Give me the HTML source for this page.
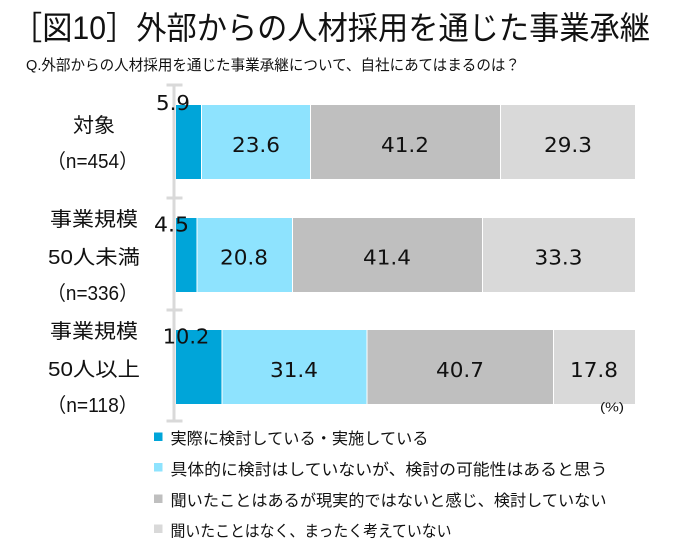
<!DOCTYPE html>
<html><head><meta charset="utf-8"><style>
html,body{margin:0;padding:0;background:#fff;}
svg{display:block;}
.j{font-family:"Liberation Sans","Noto Sans CJK JP",sans-serif;fill:#111;}
.v{font-family:"DejaVu Sans","Liberation Sans",sans-serif;font-size:20px;fill:#111;text-anchor:middle;}
.l{font-family:"Liberation Sans","Noto Sans CJK JP",sans-serif;font-size:20px;fill:#111;text-anchor:middle;}
.g{font-family:"Liberation Sans","Noto Sans CJK JP",sans-serif;font-size:16px;fill:#111;}
</style></head><body>
<svg width="675" height="553" viewBox="0 0 675 553" xmlns="http://www.w3.org/2000/svg">
<rect width="675" height="553" fill="#fff"/>
<text class="j" x="12" y="39" font-size="32" textLength="638" lengthAdjust="spacingAndGlyphs">［図10］外部からの人材採用を通じた事業承継</text>
<text class="j" x="26" y="70" font-size="15" textLength="494" lengthAdjust="spacingAndGlyphs">Q.外部からの人材採用を通じた事業承継について、自社にあてはまるのは？</text>

<!-- axis -->
<rect x="172.5" y="85" width="3" height="336" fill="#D9D9D9"/>
<rect x="166.5" y="83.5" width="16" height="3" fill="#D9D9D9"/>
<rect x="166.5" y="196.5" width="16" height="3" fill="#D9D9D9"/>
<rect x="166.5" y="308.5" width="16" height="3" fill="#D9D9D9"/>
<rect x="166.5" y="419.5" width="16" height="3" fill="#D9D9D9"/>

<!-- bar 1 -->
<rect x="176" y="105" width="25" height="74" fill="#00A5D9"/>
<rect x="202" y="105" width="108" height="74" fill="#8EE3FE"/>
<rect x="311" y="105" width="189" height="74" fill="#BFBFBF"/>
<rect x="501" y="105" width="134" height="74" fill="#D9D9D9"/>
<!-- bar 2 -->
<rect x="176" y="218" width="20.5" height="74" fill="#00A5D9"/>
<rect x="197.5" y="218" width="94.5" height="74" fill="#8EE3FE"/>
<rect x="293" y="218" width="189" height="74" fill="#BFBFBF"/>
<rect x="483" y="218" width="152" height="74" fill="#D9D9D9"/>
<!-- bar 3 -->
<rect x="176" y="330" width="45.5" height="74" fill="#00A5D9"/>
<rect x="222.5" y="330" width="144" height="74" fill="#8EE3FE"/>
<rect x="367.5" y="330" width="185.5" height="74" fill="#BFBFBF"/>
<rect x="554" y="330" width="81" height="74" fill="#D9D9D9"/>

<!-- values -->
<text class="v" x="173" y="110" textLength="34" lengthAdjust="spacingAndGlyphs">5.9</text>
<text class="v" x="256" y="152" textLength="48" lengthAdjust="spacingAndGlyphs">23.6</text>
<text class="v" x="405" y="152" textLength="48" lengthAdjust="spacingAndGlyphs">41.2</text>
<text class="v" x="568" y="152" textLength="48" lengthAdjust="spacingAndGlyphs">29.3</text>

<text class="v" x="171.5" y="231.5" textLength="35" lengthAdjust="spacingAndGlyphs">4.5</text>
<text class="v" x="244" y="264.5" textLength="48" lengthAdjust="spacingAndGlyphs">20.8</text>
<text class="v" x="387" y="264.5" textLength="48" lengthAdjust="spacingAndGlyphs">41.4</text>
<text class="v" x="558.5" y="264.5" textLength="48" lengthAdjust="spacingAndGlyphs">33.3</text>

<text class="v" x="186" y="343.5" textLength="46.5" lengthAdjust="spacingAndGlyphs">10.2</text>
<text class="v" x="294" y="377" textLength="48" lengthAdjust="spacingAndGlyphs">31.4</text>
<text class="v" x="460" y="377" textLength="48" lengthAdjust="spacingAndGlyphs">40.7</text>
<text class="v" x="594" y="377" textLength="48" lengthAdjust="spacingAndGlyphs">17.8</text>

<text class="j" x="612" y="411.5" font-size="13" text-anchor="middle" textLength="24" lengthAdjust="spacingAndGlyphs">(%)</text>

<!-- category labels -->
<text class="l" x="94" y="132" textLength="42" lengthAdjust="spacingAndGlyphs">対象</text>
<text class="l" x="92.5" y="168" textLength="91" lengthAdjust="spacingAndGlyphs">（n=454）</text>
<text class="l" x="94" y="226" textLength="88" lengthAdjust="spacingAndGlyphs">事業規模</text>
<text class="l" x="94" y="264" textLength="92" lengthAdjust="spacingAndGlyphs">50人未満</text>
<text class="l" x="92.5" y="300" textLength="91" lengthAdjust="spacingAndGlyphs">（n=336）</text>
<text class="l" x="94" y="338" textLength="88" lengthAdjust="spacingAndGlyphs">事業規模</text>
<text class="l" x="94" y="376" textLength="92" lengthAdjust="spacingAndGlyphs">50人以上</text>
<text class="l" x="92.5" y="412" textLength="91" lengthAdjust="spacingAndGlyphs">（n=118）</text>

<!-- legend -->
<rect x="154" y="432.5" width="8.5" height="8.5" fill="#00A5D9"/>
<text class="g" x="170.5" y="444" textLength="258" lengthAdjust="spacingAndGlyphs">実際に検討している・実施している</text>
<rect x="154" y="463" width="8.5" height="8.5" fill="#8EE3FE"/>
<text class="g" x="170.5" y="475" textLength="437" lengthAdjust="spacingAndGlyphs">具体的に検討はしていないが、検討の可能性はあると思う</text>
<rect x="154" y="494.5" width="8.5" height="8.5" fill="#BFBFBF"/>
<text class="g" x="170.5" y="506" textLength="436" lengthAdjust="spacingAndGlyphs">聞いたことはあるが現実的ではないと感じ、検討していない</text>
<rect x="154" y="524.5" width="8.5" height="8.5" fill="#D9D9D9"/>
<text class="g" x="170.5" y="536.5" textLength="281" lengthAdjust="spacingAndGlyphs">聞いたことはなく、まったく考えていない</text>
</svg>
</body></html>
